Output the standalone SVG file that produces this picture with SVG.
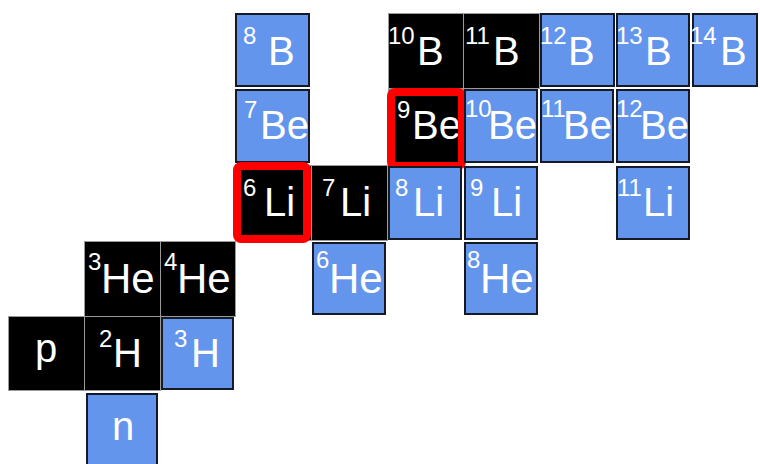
<svg xmlns="http://www.w3.org/2000/svg" width="760" height="464" viewBox="0 0 760 464">
  <style>
    .stable { fill: #000000; stroke: #9a9a9a; stroke-width: 1; }
    .unstable { fill: #6495ed; stroke: #151a26; stroke-width: 2; }
    .mark { fill: none; stroke: #ff0000; stroke-width: 8; }
    text { fill: #ffffff; font-family: "Liberation Sans", Arial, sans-serif; }
    .sym { font-size: 40px; }
    .he { font-size: 42px; }
    .mass { font-size: 24px; }
  </style>
  <rect width="760" height="464" fill="#ffffff"/>

  <!-- row 0 : boron -->
  <g id="B8"><rect class="unstable" x="236" y="14" width="73" height="72"/><text class="mass" x="243" y="44">8</text><text class="sym" x="268" y="65">B</text></g>
  <g id="B10"><rect class="stable" x="388.5" y="13.5" width="75" height="75"/><text class="mass" x="388" y="44">10</text><text class="sym" x="417" y="65">B</text></g>
  <g id="B11"><rect class="stable" x="463.5" y="13.5" width="76" height="75"/><text class="mass" x="465" y="44">11</text><text class="sym" x="493" y="65">B</text></g>
  <g id="B12"><rect class="unstable" x="541" y="14" width="73" height="72"/><text class="mass" x="540" y="44">12</text><text class="sym" x="568" y="65">B</text></g>
  <g id="B13"><rect class="unstable" x="617" y="14" width="72" height="72"/><text class="mass" x="616" y="44">13</text><text class="sym" x="645" y="65">B</text></g>
  <g id="B14"><rect class="unstable" x="693" y="14" width="64" height="72"/><text class="mass" x="690" y="44">14</text><text class="sym" x="720" y="65">B</text></g>

  <!-- row 1 : beryllium -->
  <g id="Be7"><rect class="unstable" x="236" y="90" width="73" height="72"/><text class="mass" x="244" y="118">7</text><text class="sym" x="260" y="139">Be</text></g>
  <g id="Be9"><rect class="stable" x="388.5" y="89.5" width="75" height="75"/><text class="mass" x="397" y="118">9</text><text class="sym" x="412" y="139">Be</text><rect class="mark" x="391" y="92" width="71" height="74" rx="4"/></g>
  <g id="Be10"><rect class="unstable" x="465" y="90" width="72" height="72"/><text class="mass" x="465" y="117">10</text><text class="sym" x="488" y="139">Be</text></g>
  <g id="Be11"><rect class="unstable" x="541" y="90" width="72" height="72"/><text class="mass" x="541" y="117">11</text><text class="sym" x="563" y="139">Be</text></g>
  <g id="Be12"><rect class="unstable" x="617" y="90" width="72" height="72"/><text class="mass" x="616" y="117">12</text><text class="sym" x="640" y="139">Be</text></g>

  <!-- row 2 : lithium -->
  <g id="Li6"><rect class="stable" x="236.5" y="165.5" width="75" height="75"/><text class="mass" x="243" y="196">6</text><text class="sym" x="264" y="216">Li</text><rect class="mark" x="237" y="166" width="70" height="73" rx="4"/></g>
  <g id="Li7"><rect class="stable" x="311.5" y="165.5" width="76" height="75"/><text class="mass" x="322" y="196">7</text><text class="sym" x="340" y="216">Li</text></g>
  <g id="Li8"><rect class="unstable" x="389" y="167" width="72" height="72"/><text class="mass" x="395" y="196">8</text><text class="sym" x="413" y="216">Li</text></g>
  <g id="Li9"><rect class="unstable" x="465" y="167" width="72" height="72"/><text class="mass" x="470" y="196">9</text><text class="sym" x="491" y="216">Li</text></g>
  <g id="Li11"><rect class="unstable" x="617" y="167" width="72" height="72"/><text class="mass" x="617" y="196">11</text><text class="sym" x="643" y="216">Li</text></g>

  <!-- row 3 : helium -->
  <g id="He3"><rect class="stable" x="84.5" y="241.5" width="76" height="75"/><text class="mass" x="88" y="270">3</text><text class="he" x="101" y="293">He</text></g>
  <g id="He4"><rect class="stable" x="160.5" y="241.5" width="75" height="75"/><text class="mass" x="164" y="270">4</text><text class="he" x="177" y="293">He</text></g>
  <g id="He6"><rect class="unstable" x="313" y="243" width="72" height="71"/><text class="mass" x="316" y="268">6</text><text class="he" x="329" y="293">He</text></g>
  <g id="He8"><rect class="unstable" x="465" y="243" width="72" height="71"/><text class="mass" x="467" y="268">8</text><text class="he" x="480" y="293">He</text></g>

  <!-- row 4 : hydrogen -->
  <g id="p"><rect class="stable" x="8.5" y="316.5" width="76" height="74"/><text class="sym" x="46" y="362" text-anchor="middle">p</text></g>
  <g id="H2"><rect class="stable" x="84.5" y="316.5" width="76" height="74"/><text class="mass" x="99" y="347">2</text><text class="sym" x="113" y="367">H</text></g>
  <g id="H3"><rect class="unstable" x="162" y="318" width="71" height="71"/><text class="mass" x="174" y="347">3</text><text class="sym" x="191" y="367">H</text></g>

  <!-- row 5 : neutron -->
  <g id="n"><rect class="unstable" x="87" y="394" width="70" height="72"/><text class="sym" x="123" y="440" text-anchor="middle">n</text></g>

  <g id="connectors"></g>
</svg>
